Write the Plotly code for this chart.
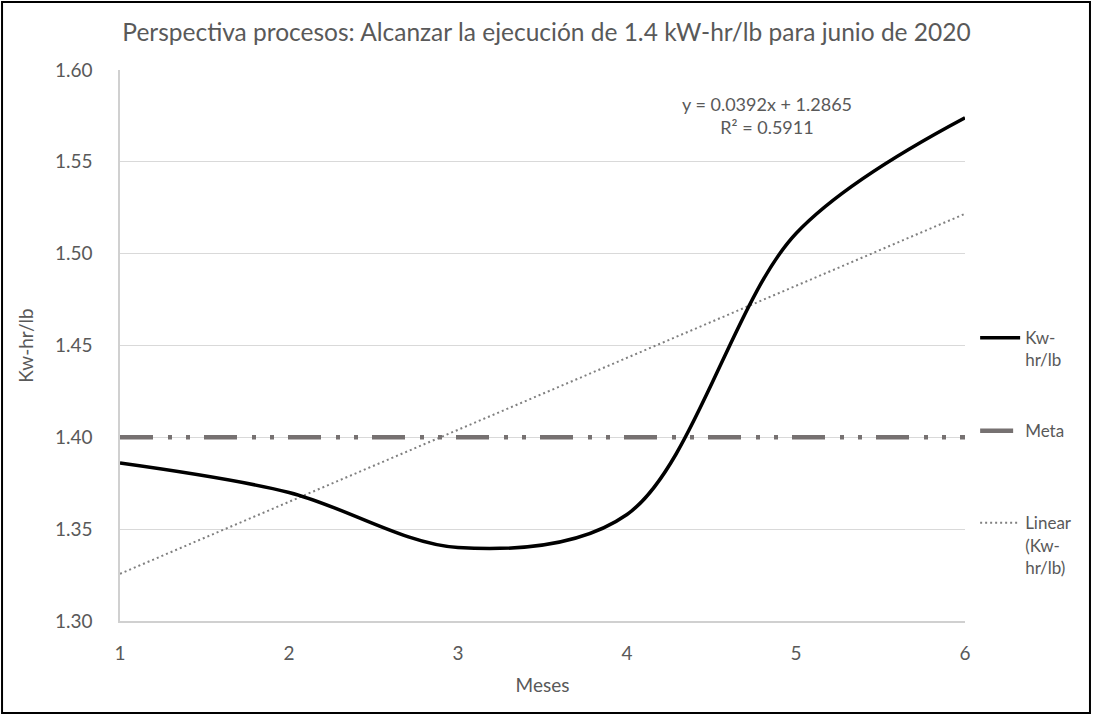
import plotly.graph_objects as go

# Monthly consumption, kW-hr per lb
meses = [1, 2, 3, 4, 5, 6]
kwh_lb = [1.386, 1.370, 1.340, 1.358, 1.511, 1.574]
meta = [1.40, 1.40, 1.40, 1.40, 1.40, 1.40]

# Linear trend coefficients shown on the chart
pendiente = 0.0392
intercepto = 1.2865
r2 = 0.5911

y_ticks = [1.30, 1.35, 1.40, 1.45, 1.50, 1.55, 1.60]
x_ticks = [1, 2, 3, 4, 5, 6]

FONT = "Lato"
TXT = "#595959"
GRIS = "#767171"

tendencia = [pendiente * m + intercepto for m in meses]

fig = go.Figure()

fig.add_trace(go.Scatter(
    x=meses, y=tendencia, mode="lines", name="Linear<br>(Kw-<br>hr/lb)",
    line=dict(color="#808080", width=2, dash="2px,3px"),
    legend="legend3", hoverinfo="skip",
))
fig.add_trace(go.Scatter(
    x=meses, y=meta, mode="lines", name="Meta",
    line=dict(color=GRIS, width=4.5, dash="33px,15px,4px,14px,4px,14px"),
    legend="legend2",
))
fig.add_trace(go.Scatter(
    x=meses, y=kwh_lb, mode="lines", name="Kw-<br>hr/lb",
    line=dict(color="black", width=3.5, shape="spline", smoothing=0.95),
    legend="legend",
))

fig.add_annotation(
    x=4.83, y=1.5755, xref="x", yref="y",
    text=f"y = {pendiente}x + {intercepto}<br>R² = {r2}",
    showarrow=False, font=dict(family=FONT, size=18, color=TXT),
    align="center",
)

# Outer frame around the whole figure
fig.add_shape(
    type="rect", xref="paper", yref="paper",
    x0=-0.1396, x1=1.1479, y0=-0.167, y1=1.1234,
    line=dict(color="black", width=2), fillcolor="rgba(0,0,0,0)",
    layer="below",
)

leg_common = dict(
    font=dict(family=FONT, size=17, color=TXT),
    bgcolor="rgba(0,0,0,0)", borderwidth=0,
    xanchor="left", yanchor="top", valign="top",
    itemwidth=40,
)

fig.update_layout(
    width=1093, height=715,
    margin=dict(l=120, r=128, t=70, b=94),
    paper_bgcolor="white", plot_bgcolor="white",
    title=dict(
        text="Perspectiva procesos: Alcanzar la ejecución de 1.4 kW-hr/lb para junio de 2020",
        x=0.5, xref="container", xanchor="center",
        y=0.955, yref="container", yanchor="middle",
        font=dict(family=FONT, size=24.5, color=TXT),
    ),
    xaxis=dict(
        range=[1, 6], tickvals=x_ticks, ticktext=[str(v) for v in x_ticks],
        showgrid=False, zeroline=False,
        showline=True, linecolor="#d0d0d0", linewidth=1.5,
        ticks="", ticklabelstandoff=14,
        tickfont=dict(family=FONT, size=19, color=TXT),
        title=dict(text="Meses", font=dict(family=FONT, size=19, color=TXT), standoff=16),
    ),
    yaxis=dict(
        range=[1.30, 1.60], tickvals=y_ticks, ticktext=[f"{v:.2f}" for v in y_ticks],
        showgrid=True, gridcolor="#d9d9d9", gridwidth=1,
        zeroline=False,
        showline=True, linecolor="#d0d0d0", linewidth=1.5,
        ticks="", ticklabelstandoff=22,
        tickfont=dict(family=FONT, size=19, color=TXT),
        title=dict(text="Kw-hr/lb", font=dict(family=FONT, size=19, color=TXT), standoff=16),
    ),
    legend=dict(x=1.012, y=0.546, **leg_common),
    legend2=dict(x=1.012, y=0.377, **leg_common),
    legend3=dict(x=1.012, y=0.210, **leg_common),
    showlegend=True,
)

fig.write_html("out.html")
